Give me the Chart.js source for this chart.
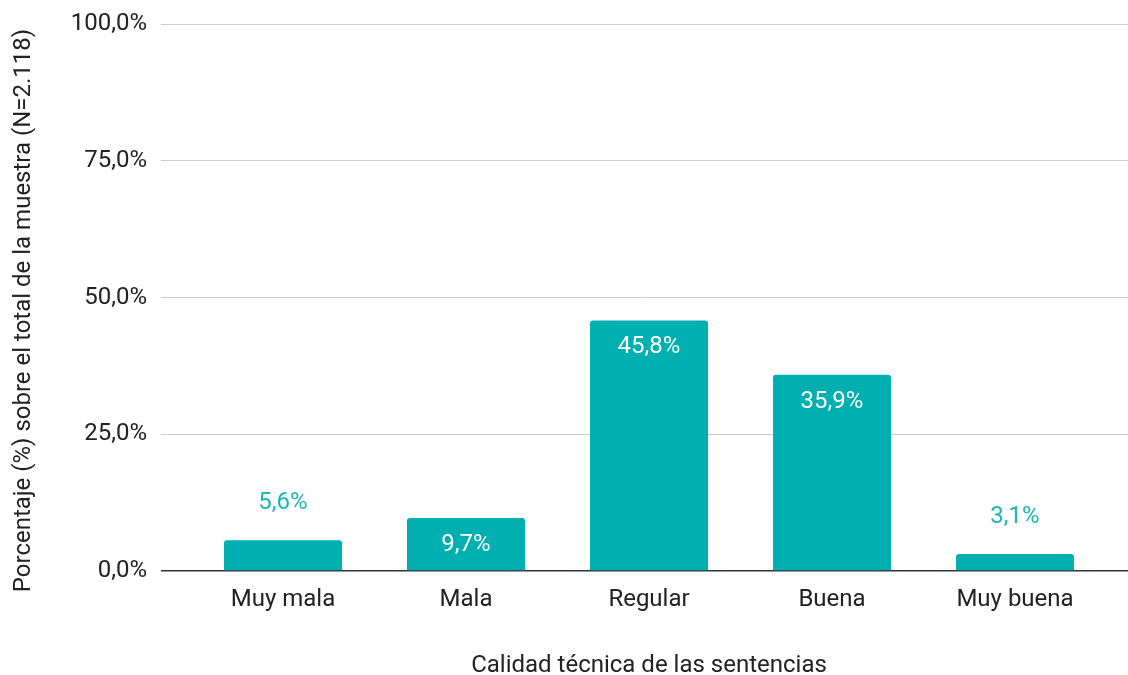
<!DOCTYPE html>
<html>
<head>
<meta charset="utf-8">
<script src="https://cdn.jsdelivr.net/npm/chart.js@4/dist/chart.umd.min.js"></script>
<style>
  html, body { margin: 0; padding: 0; background: #fff; }
  #wrap { width: 1128px; height: 675px; position: relative; }
</style>
</head>
<body>
<div id="wrap"><canvas id="c" width="1128" height="675"></canvas></div>
<script>
const categories = ['Muy mala', 'Mala', 'Regular', 'Buena', 'Muy buena'];
const values = [5.6, 9.7, 45.8, 35.9, 3.1];
const valueLabels = ['5,6%', '9,7%', '45,8%', '35,9%', '3,1%'];
const yTickValues = [0, 25, 50, 75, 100];
const yTickLabels = ['0,0%', '25,0%', '50,0%', '75,0%', '100,0%'];
const xTitle = 'Calidad técnica de las sentencias';
const yTitle = 'Porcentaje (%) sobre el total de la muestra (N=2.118)';

const BAR = '#00AFAF';
const LABEL_OUT = '#1AB7B4';
const FONT = 'Roboto';
const FS = 24;

const layoutPlugin = {
  id: 'xInset',
  afterLayout(chart) {
    const x = chart.scales.x;
    const start = x.left + 30.5;
    const end = x.right - 21.5;
    x._startPixel = start;
    x._endPixel = end;
    x._length = end - start;
    x.left = start;
    x.right = end;
    x.bottom += 5;
    const y = chart.scales.y;
    y.bottom += 26;
  }
};

const labelPlugin = {
  id: 'barLabels',
  afterDatasetsDraw(chart) {
    const ctx = chart.ctx;
    const meta = chart.getDatasetMeta(0);
    ctx.save();
    ctx.font = FS + 'px ' + FONT;
    ctx.textAlign = 'center';
    ctx.textBaseline = 'middle';
    meta.data.forEach((bar, i) => {
      const inside = values[i] >= 8;
      if (inside) {
        ctx.fillStyle = '#ffffff';
        ctx.fillText(valueLabels[i], bar.x, bar.y + 27);
      } else {
        ctx.fillStyle = LABEL_OUT;
        ctx.fillText(valueLabels[i], bar.x, bar.y - 37);
      }
    });
    ctx.restore();
  }
};

new Chart(document.getElementById('c'), {
  type: 'bar',
  data: {
    labels: categories,
    datasets: [{
      data: values,
      backgroundColor: BAR,
      borderRadius: { topLeft: 3, topRight: 3, bottomLeft: 0, bottomRight: 0 },
      borderSkipped: 'start',
      barPercentage: 0.645,
      categoryPercentage: 1.0
    }]
  },
  options: {
    responsive: false,
    animation: false,
    devicePixelRatio: 1,
    layout: { padding: { top: 24, right: 0, bottom: 0, left: 0 } },
    plugins: { legend: { display: false }, tooltip: { enabled: false } },
    scales: {
      x: {
        grid: { display: false, drawTicks: false },
        border: { display: false },
        ticks: { color: '#222', font: { family: FONT, size: FS }, padding: 15, maxRotation: 0 },
        title: { display: true, text: xTitle, color: '#222', font: { family: FONT, size: FS }, padding: { top: 0, bottom: 0 } },
        afterFit(s) { s.height = 104; s.paddingLeft = 0; s.paddingRight = 0; s.paddingTop = 0; s.paddingBottom = 0; }
      },
      y: {
        min: 0, max: 100,
        afterBuildTicks(s) { s.ticks = yTickValues.map(v => ({ value: v })); },
        grid: {
          drawTicks: false,
          color: (c) => (c.tick && c.tick.value === 0 ? '#333333' : '#cccccc'),
          lineWidth: (c) => (c.tick && c.tick.value === 0 ? 1.5 : 1)
        },
        border: { display: false },
        ticks: {
          color: '#222',
          font: { family: FONT, size: FS },
          padding: 14,
          callback: (v) => yTickLabels[yTickValues.indexOf(v)]
        },
        title: { display: true, text: yTitle, color: '#222', font: { family: FONT, size: FS }, padding: { top: 10, bottom: 0 } },
        afterFit(s) { s.width = 161; s.paddingLeft = 0; s.paddingRight = 0; s.paddingTop = 0; s.paddingBottom = 0; }
      }
    }
  },
  plugins: [layoutPlugin, labelPlugin]
});
</script>
</body>
</html>
